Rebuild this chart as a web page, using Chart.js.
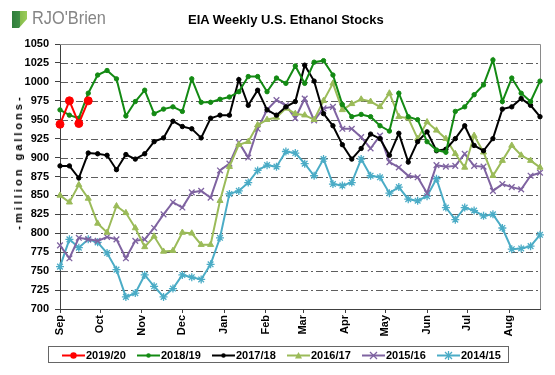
<!DOCTYPE html>
<html>
<head>
<meta charset="utf-8">
<script src="https://cdn.jsdelivr.net/npm/chart.js@4/dist/chart.umd.min.js"></script>
<style>
  html, body { margin: 0; padding: 0; background: #fff; }
  #wrap { position: relative; width: 555px; height: 375px; overflow: hidden; font-family: "Liberation Sans", Arial, sans-serif; }
  #c { position: absolute; left: 0; top: 0; }
  #logoIcon { position: absolute; left: 12px; top: 11px; width: 15px; height: 17px;
    background: linear-gradient(90deg, #2f7d3c 0%, #3f8f45 55%, #86bd4c 56%, #9ccc5a 100%); }
  #logoIcon:after { content: ""; position: absolute; left: 7px; top: 8px; width: 8px; height: 9px; background: #fff;
    clip-path: polygon(0 100%, 100% 0, 100% 100%); }
  #logoText { position: absolute; left: 32px; top: 7px; font-family: "Liberation Sans", Arial, sans-serif;
    font-size: 19px; color: #858585; transform: scaleX(0.86); transform-origin: 0 0; white-space: nowrap; }
  #title { position: absolute; left: 188px; top: 12px; font: bold 13px "Liberation Sans", Arial, sans-serif; color: #000; white-space: nowrap; }
  #ytitle { position: absolute; left: 18px; top: 162px; transform: translate(-50%, -50%) rotate(-90deg);
    font: bold 11px "Liberation Sans", Arial, sans-serif; letter-spacing: 3px; color: #000; white-space: nowrap; }
  #legend { position: absolute; left: 48px; top: 346px; width: 461px; height: 17px; border: 1px solid #666; box-sizing: border-box; }
  .item { position: absolute; top: 1px; height: 14px; display: flex; align-items: center; white-space: nowrap;
    font: bold 11px "Liberation Sans", Arial, sans-serif; color: #000; }
  .item svg { margin-right: 1px; }
</style>
</head>
<body>
<div id="wrap">
  <canvas id="c" width="555" height="375"></canvas>
  <div id="logoIcon"></div>
  <div id="logoText">RJO'Brien</div>
  <div id="title">EIA Weekly U.S. Ethanol Stocks</div>
  <div id="ytitle">-million gallons-</div>
  <div id="legend"></div>
</div>
<script>
// ---- Data (weekly, week 0 = first week of September) ----
const seriesNames = ["2019/20", "2018/19", "2017/18", "2016/17", "2015/16", "2014/15"];

const s2019_20 = [944, 975, 945, 975];

const s2018_19 = [963, 956, 952, 985, 1009, 1015, 1004, 955, 974, 989, 958, 964, 967, 961, 1004, 973, 973, 977,
  980, 987, 1007, 1007, 987, 1005, 998, 1021, 998, 1026, 1028, 1009, 970, 954, 957, 954, 942, 935, 985, 954,
  950, 921, 910, 907, 961, 967, 983, 996, 1029, 974, 1005, 985, 974, 1001];

const s2017_18 = [889, 889, 873, 906, 905, 903, 884, 904, 898, 905, 921, 926, 948, 941, 938, 926, 952, 956,
  956, 1003, 969, 989, 963, 956, 967, 974, 1022, 1001, 958, 942, 917, 898, 912, 931, 925, 903, 932, 894,
  921, 934, 909, 911, 925, 942, 916, 909, 925, 964, 967, 978, 969, 954];

const s2016_17 = [850, 841, 864, 846, 813, 801, 836, 827, 807, 782, 796, 776, 777, 801, 800, 785, 785, 843,
  888, 917, 921, 943, 950, 953, 965, 958, 956, 950, 975, 998, 963, 971, 977, 974, 967, 985, 954, 952,
  925, 947, 936, 925, 905, 887, 929, 907, 876, 896, 916, 903, 896, 887];

const s2015_16 = [784, 767, 794, 792, 790, 795, 792, 767, 790, 792, 807, 825, 841, 834, 854, 856, 847, 883,
  892, 920, 900, 938, 963, 976, 969, 952, 978, 949, 965, 967, 938, 938, 927, 912, 929, 894, 887, 876,
  874, 853, 890, 888, 889, 905, 889, 888, 856, 865, 861, 858, 876, 880];

const s2014_15 = [756, 792, 781, 792, 788, 774, 752, 716, 721, 745, 730, 716, 727, 745, 742, 739, 759, 794,
  852, 856, 867, 883, 890, 888, 908, 906, 892, 876, 898, 865, 863, 867, 898, 876, 874, 853, 861, 845,
  843, 849, 872, 834, 818, 834, 830, 823, 825, 807, 779, 780, 783, 798];

// Month tick labels and their positions (in weeks)
const monthLabels = ["Sep", "Oct", "Nov", "Dec", "Jan", "Feb", "Mar", "Apr", "May", "Jun", "Jul", "Aug"];
const monthWeeks = [0, 4.29, 8.71, 13.0, 17.43, 21.86, 25.86, 30.29, 34.57, 39.0, 43.29, 47.71];

// ---- Styles ----
const seriesValues = [s2019_20, s2018_19, s2017_18, s2016_17, s2015_16, s2014_15];
const colors = ["#ff0000", "#138a13", "#000000", "#9bbb59", "#7f63a1", "#4bacc6"];
const pStyles = ["circle", "circle", "circle", "triangle", "crossRot", "star"];
const pRadius = [4, 2.2, 2.2, 3.5, 4, 4];

const datasets = seriesNames.map((name, k) => ({
  label: name,
  data: seriesValues[k].map((v, i) => ({ x: i, y: v })),
  borderColor: colors[k],
  backgroundColor: colors[k],
  pointBorderColor: colors[k],
  pointBackgroundColor: colors[k],
  borderWidth: 2,
  pointStyle: pStyles[k],
  pointRadius: pRadius[k],
  pointBorderWidth: (pStyles[k] === 'crossRot' || pStyles[k] === 'star') ? 1.3 : 1,
  tension: 0,
  fill: false,
  clip: 8
}));

const tickFont = { family: "'Liberation Sans', Arial, sans-serif", size: 11, weight: 'bold' };

// Dash-dot horizontal grid lines at the y scale's own ticks, plus top/right frame
const framePlugin = {
  id: 'frame',
  beforeDatasetsDraw(chart) {
    const { ctx, chartArea: a } = chart;
    const ys = chart.scales.y;
    ctx.save();
    ctx.strokeStyle = '#5e5e5e';
    ctx.lineWidth = 1;
    ctx.setLineDash([7, 3, 2, 3]);
    ys.ticks.forEach(t => {
      if (t.value <= ys.min || t.value >= ys.max) return;
      const y = Math.round(ys.getPixelForValue(t.value)) + 0.5;
      ctx.beginPath();
      ctx.moveTo(a.left + 1, y);
      ctx.lineTo(a.right, y);
      ctx.stroke();
    });
    ctx.setLineDash([]);
    ctx.strokeStyle = '#8a8a8a';
    ctx.beginPath();
    ctx.moveTo(a.left, a.top + 0.5);
    ctx.lineTo(a.right + 0.5, a.top + 0.5);
    ctx.lineTo(a.right + 0.5, a.bottom);
    ctx.stroke();
    ctx.restore();
  }
};

new Chart(document.getElementById('c').getContext('2d'), {
  type: 'line',
  data: { datasets },
  options: {
    responsive: false,
    animation: false,
    devicePixelRatio: 1,
    layout: { padding: { left: 10, right: 15, top: 44, bottom: 0 } },
    plugins: { legend: { display: false }, title: { display: false }, tooltip: { enabled: false } },
    scales: {
      x: {
        type: 'linear', min: 0, max: 51,
        afterBuildTicks: (s) => { s.ticks = monthWeeks.map(v => ({ value: v })); },
        afterFit: (s) => { s.height = 66; },
        ticks: {
          autoSkip: false, maxRotation: 90, minRotation: 90, padding: 2,
          color: '#000', font: tickFont,
          callback: (v, i) => monthLabels[i]
        },
        grid: { drawOnChartArea: false, drawTicks: true, tickLength: 4, color: '#404040' },
        border: { color: '#404040', width: 1 }
      },
      y: {
        min: 700, max: 1050,
        afterFit: (s) => { s.width = 50; },
        ticks: { stepSize: 25, color: '#000', font: tickFont, padding: 6, callback: (v) => String(v) },
        grid: { drawOnChartArea: false, drawTicks: true, tickLength: 5, color: '#404040' },
        border: { color: '#404040', width: 1 }
      }
    }
  },
  plugins: [framePlugin]
});

// ---- HTML legend ----
function markerSvg(style, color) {
  const cx = 11.5, cy = 4.5;
  let m = '';
  if (style === 'circle') {
    const r = color === '#ff0000' ? 3.2 : 2.2;
    m = `<circle cx="${cx}" cy="${cy}" r="${r}" fill="${color}"/>`;
  } else if (style === 'triangle') {
    m = `<polygon points="${cx},${cy - 3.5} ${cx - 3.5},${cy + 3} ${cx + 3.5},${cy + 3}" fill="${color}"/>`;
  } else if (style === 'crossRot') {
    m = `<path d="M${cx - 3.5},${cy - 3.5}L${cx + 3.5},${cy + 3.5}M${cx - 3.5},${cy + 3.5}L${cx + 3.5},${cy - 3.5}" stroke="${color}" stroke-width="1.3"/>`;
  } else {
    m = `<path d="M${cx - 3.5},${cy - 3.5}L${cx + 3.5},${cy + 3.5}M${cx - 3.5},${cy + 3.5}L${cx + 3.5},${cy - 3.5}M${cx},${cy - 4.5}L${cx},${cy + 4.5}" stroke="${color}" stroke-width="1.3"/>`;
  }
  return `<svg width="23" height="9" viewBox="0 0 23 9"><line x1="0" y1="${cy}" x2="23" y2="${cy}" stroke="${color}" stroke-width="2"/>${m}</svg>`;
}
const legend = document.getElementById('legend');
seriesNames.forEach((name, k) => {
  const d = document.createElement('div');
  d.className = 'item';
  d.style.left = (13 + 75 * k) + 'px';
  d.innerHTML = markerSvg(pStyles[k], colors[k]) + '<span>' + name + '</span>';
  legend.appendChild(d);
});
</script>
</body>
</html>
